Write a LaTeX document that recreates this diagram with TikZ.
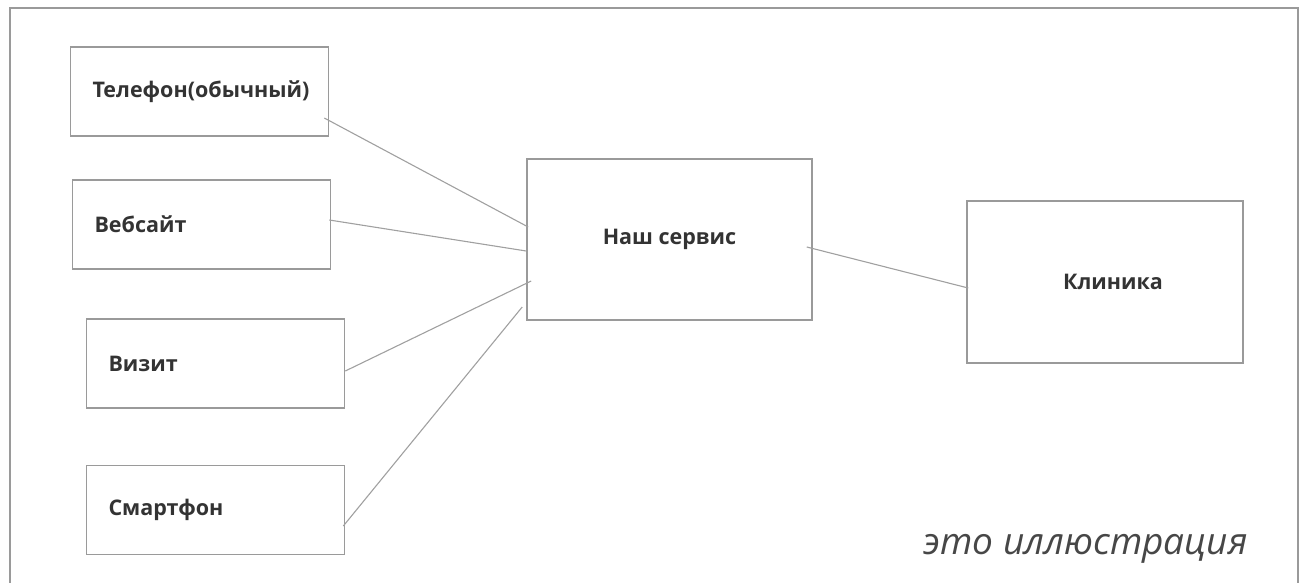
\documentclass[tikz,border=0pt]{standalone}
\usepackage{fontspec}
\setmainfont{Open Sans}
\usepackage{xcolor}
\usepackage{tikz}
\usetikzlibrary{
    positioning,
    calc
}
\definecolor{framegray}{HTML}{9A9A9A}
\definecolor{linegray}{HTML}{A0A0A0}
\definecolor{textgray}{HTML}{333333}
\tikzset{
    srcbox/.style={
        rectangle, draw=framegray, line width=1.6pt,
        minimum height=89pt, text width=214pt, inner xsep=22pt,
        align=left, text=textgray,
        font=\fontsize{21.5}{26}\selectfont\bfseries
    },
    hubbox/.style={
        rectangle, draw=framegray, line width=1.6pt,
        align=center, text=textgray,
        font=\fontsize{21.5}{26}\selectfont\bfseries
    },
    link/.style={
        draw=linegray, line width=1.1pt
    }
}

\begin{document}
\begin{tikzpicture}[x=1pt, y=-1pt]

        \useasboundingbox (0,0) rectangle (1309,582);

        % Frame
        \draw[framegray, line width=2.4pt] (10,590) -- (10,8) -- (1298,8) -- (1298,590);

        % Channels
        \node[srcbox] (phone) at (199.5,91.5) {Телефон(обычный)};
        \node[srcbox] (website) at (201.5,224.5) {Вебсайт};
        \node[srcbox] (visit) at (215.5,363.5) {Визит};
        \node[srcbox] (smartphone) at (215.5,510) {Смартфон};

        % Service and clinic
        \node[hubbox, minimum width=285pt, minimum height=161pt] (service) at (669.5,239.5) {Наш сервис};
        \node[hubbox, minimum width=276pt, minimum height=162pt, text width=250pt, align=center, inner xsep=13pt] (clinic) at (1105,282) {\hspace*{16pt}\raisebox{-5pt}{Клиника}};

        % Caption
        \node[text=textgray!90, font=\fontsize{37}{44}\selectfont\itshape, anchor=base east] (caption) at (1251,554) {это иллюстрация};

        % Links
        \draw[link] ($(phone.east)+(-5,26.5)$) -- ($(service.west)+(2,-12.5)$);
        \draw[link] ($(website.east)+(-2,-4.5)$) -- ($(service.west)+(0,11.5)$);
        \draw[link] ($(visit.east)+(0,7.5)$) -- ($(service.west)+(5,41.5)$);
        \draw[link] ($(smartphone.east)+(-2,16)$) -- ($(service.west)+(-4,67.5)$);
        \draw[link] ($(service.east)+(-6,7.5)$) -- ($(clinic.west)+(2,6)$);

    \end{tikzpicture}
\end{document}
